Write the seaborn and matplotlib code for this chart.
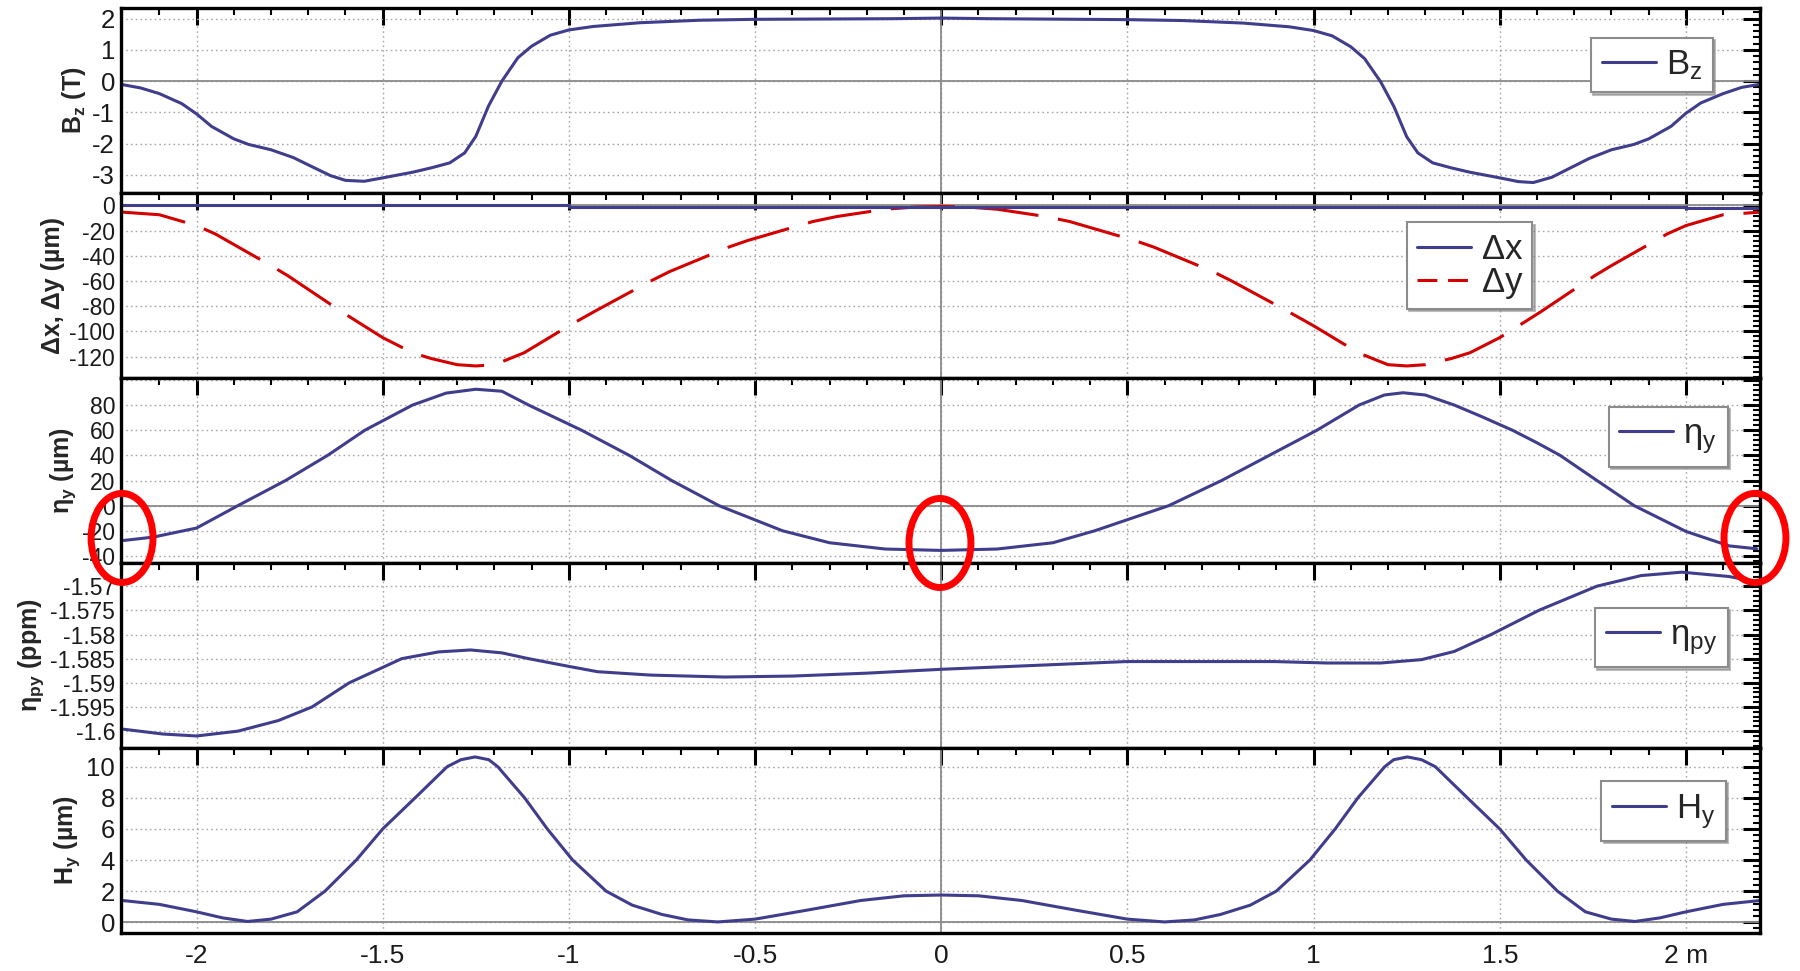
import matplotlib
matplotlib.use("Agg")
import matplotlib.pyplot as plt
import seaborn as sns
from matplotlib.patches import Ellipse
from matplotlib.lines import Line2D
from matplotlib.ticker import FixedLocator, MultipleLocator, AutoMinorLocator, FuncFormatter

# ---------------- data ----------------
bz_x = [-2.2, -2.15, -2.1, -2.04, -2.0, -1.96, -1.9, -1.86, -1.8, -1.74, -1.68, -1.64, -1.6, -1.55, -1.5,
        -1.42, -1.37, -1.32, -1.28, -1.25, -1.216, -1.18, -1.137, -1.1, -1.05, -1.0, -0.935, -0.81,
        -0.65, -0.5, -0.13, 0.0,
        0.13, 0.5, 0.65, 0.81, 0.935, 1.0, 1.05, 1.1, 1.137, 1.18, 1.216, 1.25, 1.28, 1.32, 1.37,
        1.42, 1.5, 1.55, 1.59, 1.64, 1.68, 1.74, 1.8, 1.86, 1.9, 1.96, 2.0, 2.04, 2.1, 2.15, 2.2]
bz = [-0.11, -0.22, -0.4, -0.72, -1.05, -1.45, -1.85, -2.03, -2.2, -2.45, -2.8, -3.03, -3.18, -3.21, -3.1,
      -2.92, -2.78, -2.62, -2.30, -1.77, -0.80, 0.0, 0.75, 1.12, 1.47, 1.64, 1.75, 1.87,
      1.95, 1.98, 2.0, 2.02,
      2.0, 1.97, 1.94, 1.86, 1.74, 1.62, 1.45, 1.1, 0.72, -0.02, -0.82, -1.78, -2.3, -2.62, -2.78,
      -2.92, -3.1, -3.22, -3.25, -3.08, -2.84, -2.48, -2.2, -2.03, -1.85, -1.45, -1.03, -0.7, -0.4, -0.2, -0.1]

dy_x = [-2.2, -2.1, -2.0, -1.95, -1.8, -1.755, -1.61, -1.57, -1.5, -1.42, -1.37, -1.3, -1.25, -1.2,
        -1.17, -1.12, -1.0, -0.93, -0.78, -0.73, -0.57, -0.52, -0.345, -0.28, -0.15, -0.07, 0.0,
        0.07, 0.15, 0.28, 0.345, 0.52, 0.57, 0.73, 0.78, 0.93, 1.0, 1.12, 1.17, 1.2, 1.25, 1.3,
        1.37, 1.42, 1.5, 1.57, 1.61, 1.755, 1.8, 1.95, 2.0, 2.1, 2.2]
dy = [-5.3, -7.4, -16, -22.6, -47.8, -55.8, -84.5, -92, -105, -117, -121.6, -126.5, -127.5, -126.5,
      -123, -117, -95.6, -84, -60, -52.6, -33, -27.9, -12.8, -8.8, -3, -1.3, -0.8,
      -1.3, -3, -8.8, -12.8, -27.9, -33, -52.6, -60, -84, -95.6, -117, -123, -126.5, -127.5, -126.5,
      -121.6, -117, -105, -92, -84.5, -55.8, -47.8, -22.6, -16, -7.4, -5.3]

dx_x = [-2.2, -1.0, -1.0, 2.0, 2.0, 2.2]
dx = [0.0, 0.0, -0.9, -0.9, -1.8, -1.8]

eta_x = [-2.196, -2.116, -2.0, -1.889, -1.761, -1.648, -1.548, -1.42, -1.33, -1.25, -1.18, -1.108,
         -0.966, -0.838, -0.724, -0.597, -0.426, -0.3, -0.15, 0.0, 0.15, 0.3, 0.412, 0.611, 0.753,
         0.881, 1.009, 1.122, 1.19, 1.24, 1.3, 1.378, 1.45, 1.534, 1.6, 1.662, 1.761, 1.861, 2.0,
         2.116, 2.19]
eta_y = [-27.7, -25, -17.8, 0, 20, 40, 60, 80, 89.5, 92.6, 91, 80,
         60, 40, 20, 0, -20, -29.5, -34.5, -35.6, -34.5, -29.5, -20, 0, 20,
         40, 60, 80, 88, 89.8, 88, 80, 71, 60, 50, 40, 20, 0, -20.5,
         -32, -34.3]

etapy_x = [-2.196, -2.09, -2.0, -1.889, -1.78, -1.69, -1.59, -1.449, -1.35, -1.264, -1.18, -1.108,
           -1.0, -0.923, -0.78, -0.582, -0.4, -0.2, 0.0, 0.25, 0.497, 0.7, 0.895, 1.037, 1.18,
           1.29, 1.378, 1.477, 1.605, 1.761, 1.88, 1.989, 2.116, 2.19]
eta_py = [-1.5996, -1.6006, -1.6010, -1.6000, -1.5978, -1.5950, -1.5900, -1.5850, -1.5836, -1.5832,
          -1.5838, -1.5850, -1.5866, -1.5877, -1.5884, -1.5888, -1.5886, -1.5880, -1.5872, -1.5864,
          -1.5856, -1.5856, -1.5856, -1.5859, -1.5859, -1.5852, -1.5835, -1.5800, -1.5750, -1.5700,
          -1.5678, -1.5671, -1.5680, -1.5691]

hy_x = [-2.2, -2.1, -2.0, -1.93, -1.863, -1.8, -1.73, -1.655, -1.571, -1.5, -1.413, -1.327, -1.29,
        -1.252, -1.215, -1.191, -1.119, -1.058, -0.99, -0.9, -0.83, -0.75, -0.68, -0.6, -0.5, -0.36,
        -0.216, -0.1, 0.0,
        0.1, 0.216, 0.36, 0.5, 0.6, 0.68, 0.75, 0.83, 0.9, 0.99, 1.058, 1.119, 1.191, 1.215, 1.252,
        1.29, 1.327, 1.413, 1.5, 1.571, 1.655, 1.73, 1.8, 1.863, 1.93, 2.0, 2.1, 2.2]
h_y = [1.4, 1.15, 0.67, 0.28, 0.05, 0.2, 0.67, 2.0, 4.0, 6.0, 8.0, 10.0, 10.45,
       10.63, 10.45, 10.0, 8.0, 6.0, 4.0, 2.0, 1.1, 0.5, 0.15, 0.02, 0.2, 0.78,
       1.4, 1.7, 1.75,
       1.7, 1.4, 0.78, 0.2, 0.02, 0.15, 0.5, 1.1, 2.0, 4.0, 6.0, 8.0, 10.0, 10.45, 10.63,
       10.45, 10.0, 8.0, 6.0, 4.0, 2.0, 0.67, 0.2, 0.05, 0.28, 0.67, 1.15, 1.4]

xtick_values = [-2, -1.5, -1, -0.5, 0, 0.5, 1, 1.5, 2]
xtick_labels = ["-2", "-1.5", "-1", "-0.5", "0", "0.5", "1", "1.5", "2 m"]

bz_ticks = [-3, -2, -1, 0, 1, 2]
d_ticks = [-120, -100, -80, -60, -40, -20, 0]
eta_ticks = [-40, -20, 0, 20, 40, 60, 80, 100]
eta_tick_hidden = [100]
etapy_ticks = [-1.6, -1.595, -1.59, -1.585, -1.58, -1.575, -1.57]
hy_ticks = [0, 2, 4, 6, 8, 10]

ylabels = ["B$_\\mathbf{z}$ (T)", "Δx, Δy (µm)", "η$_\\mathbf{y}$ (µm)",
           "η$_\\mathbf{py}$ (ppm)", "H$_\\mathbf{y}$ (µm)"]
legend_labels = ["B$_\\mathrm{z}$", "Δx", "Δy", "η$_\\mathrm{y}$", "η$_\\mathrm{py}$", "H$_\\mathrm{y}$"]

# ---------------- style ----------------
sns.set_style("white")
plt.rcParams["font.family"] = ["Liberation Sans", "DejaVu Sans"]
plt.rcParams["mathtext.fontset"] = "custom"
plt.rcParams["mathtext.rm"] = "Liberation Sans"
plt.rcParams["mathtext.bf"] = "Liberation Sans:bold"
plt.rcParams["mathtext.it"] = "Liberation Sans:italic"

BLUE = "#403d8c"
RED = "#d40000"
LW = 2.2

fig, axes = plt.subplots(5, 1, figsize=(18, 9.71), dpi=100, sharex=True)
fig.subplots_adjust(left=0.067, right=0.978, top=0.992, bottom=0.039, hspace=0)


def draw(ax, x, y, color, label):
    sns.lineplot(x=x, y=y, ax=ax, color=color, lw=LW, estimator=None, sort=False,
                 label=label, legend=False, zorder=5)
    return ax.lines[-1]


l_bz = draw(axes[0], bz_x, bz, BLUE, legend_labels[0])
l_dy = draw(axes[1], dy_x, dy, RED, legend_labels[2])
l_dy.set_linestyle((0, (21, 6.5)))
l_dx = draw(axes[1], dx_x, dx, BLUE, legend_labels[1])
l_eta = draw(axes[2], eta_x, eta_y, BLUE, legend_labels[3])
l_etapy = draw(axes[3], etapy_x, eta_py, BLUE, legend_labels[4])
l_hy = draw(axes[4], hy_x, h_y, BLUE, legend_labels[5])

ylims = [(-3.58, 2.35), (-137, 10), (-45.6, 101.6), (-1.6035, -1.5652), (-0.7, 11.2)]
yticks = [bz_ticks, d_ticks, eta_ticks, etapy_ticks, hy_ticks]
ysizes = [18.5, 16.5, 16.5, 16.5, 18.5]


def fmt_eta(v, pos):
    if any(abs(v - h) < 1e-9 for h in eta_tick_hidden):
        return ""
    return f"{v:g}"


for i, ax in enumerate(axes):
    ax.set_xlim(-2.204, 2.2)
    ax.set_ylim(*ylims[i])
    ax.xaxis.set_major_locator(FixedLocator(xtick_values))
    ax.xaxis.set_minor_locator(MultipleLocator(0.1))
    ax.yaxis.set_major_locator(FixedLocator(yticks[i]))
    ax.yaxis.set_minor_locator(AutoMinorLocator(5))
    if i == 2:
        ax.yaxis.set_major_formatter(FuncFormatter(fmt_eta))
    else:
        ax.yaxis.set_major_formatter(FuncFormatter(lambda v, p: f"{v:g}"))
    ax.tick_params(which="both", direction="in", top=True, right=True, colors="black",
                   labelcolor="#1a1a1a")
    ax.tick_params(which="major", length=12, width=2.2)
    ax.tick_params(which="minor", length=5, width=1.5)
    ax.tick_params(axis="y", labelsize=ysizes[i], pad=4)
    ax.tick_params(axis="x", labelsize=19, pad=8)
    ax.grid(True, which="major", linestyle=(0, (1.2, 2.2)), color="#a8a8a8", lw=1.0, zorder=0)
    ax.axvline(0, color="#8a8a8a", lw=1.3, zorder=2)
    if i != 3:
        ax.axhline(0, color="#8a8a8a", lw=1.3, zorder=2)
    for sp in ax.spines.values():
        sp.set_visible(True)
        sp.set_color("black")
        sp.set_linewidth(2.4)
        sp.set_zorder(6)
    ax.set_ylabel(ylabels[i], fontsize=18, fontweight="bold", labelpad=3)
    ax.set_xlabel("")
    ax.set_ylim(*ylims[i])

axes[4].set_xticklabels(xtick_labels)

leg_kw = dict(loc="upper right", fontsize=25, handlelength=1.55, handletextpad=0.3,
              borderpad=0.3, borderaxespad=0, fancybox=False, framealpha=1,
              labelspacing=0.0, shadow={"color": "0.45", "alpha": 0.45, "ox": 1.5, "oy": -1.5})

dy_handle = Line2D([], [], color=RED, lw=LW, linestyle=(0, (6.5, 3.5)))
legs = [
    axes[0].legend([l_bz], [legend_labels[0]], bbox_to_anchor=(0.971, 0.837), **leg_kw),
    axes[1].legend([l_dx, dy_handle], [legend_labels[1], legend_labels[2]],
                   bbox_to_anchor=(0.861, 0.84), **leg_kw),
    axes[2].legend([l_eta], [legend_labels[3]], bbox_to_anchor=(0.98, 0.842), **leg_kw),
    axes[3].legend([l_etapy], [legend_labels[4]], bbox_to_anchor=(0.98, 0.757), **leg_kw),
    axes[4].legend([l_hy], [legend_labels[5]], bbox_to_anchor=(0.979, 0.82), **leg_kw),
]
for lg in legs:
    fr = lg.get_frame()
    fr.set_edgecolor("#8c8c8c")
    fr.set_linewidth(1.5)
    lg.set_zorder(8)

# red annotation ellipses (figure coordinates)
for cx, cy in [(0.0678, 0.446), (0.5222, 0.4408), (0.975, 0.446)]:
    fig.add_artist(Ellipse((cx, cy), 0.0344, 0.0917, transform=fig.transFigure,
                           fill=False, ec="#ff0000", lw=5, zorder=20))

fig.savefig("out.png", dpi=100)
